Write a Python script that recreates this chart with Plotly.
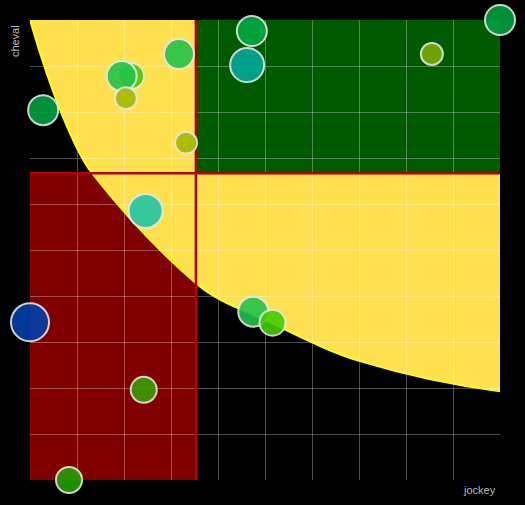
import plotly.graph_objects as go

# bubbles (jockey score, cheval score)
jockey = [0.28, 2.15, 1.95, 2.04, 3.17, 3.32, 4.72, 4.62, 8.55, 10.0, 2.46, 0.0, 4.75, 5.16, 2.42, 0.83]
cheval = [8.04, 8.78, 8.78, 8.30, 9.26, 7.33, 9.76, 9.02, 9.26, 10.0, 5.85, 3.43, 3.66, 3.42, 1.96, 0.0]
weight = [30, 26, 30, 22, 30, 22, 30, 34, 22, 30, 34, 38, 30, 26, 26, 26]
colors = [
    "#00a040", "#44cc00", "#22c34a", "#a5b800", "#22c34a", "#a5b800",
    "#00aa44", "#00a89a", "#7aaa00", "#00a040", "#22c5a5", "#0040a8",
    "#22c34a", "#44cc00", "#3a9e00", "#22a000",
]

# thresholds and the boundary of the yellow zone
jockey_cut = 3.53
cheval_cut = 6.67
curve_x = [0, 0.66, 1.32, 3.53, 5.0, 7.0, 10.0]
curve_y = [10, 8.0, 6.67, 4.28, 3.48, 2.59, 1.93]


def smooth_path(xs, ys):
    # cubic hermite through the read points (x is increasing), as bezier segments
    n = len(xs)
    slopes = []
    for i in range(n):
        if 0 < i < n - 1:
            slopes.append((ys[i + 1] - ys[i - 1]) / (xs[i + 1] - xs[i - 1]))
        else:
            slopes.append(None)
    first = (ys[1] - ys[0]) / (xs[1] - xs[0])
    last = (ys[-1] - ys[-2]) / (xs[-1] - xs[-2])
    slopes[0] = 2 * first - slopes[1]
    slopes[-1] = 2 * last - slopes[-2]
    path = f"M {xs[0]},{ys[0]}"
    for i in range(n - 1):
        dx = (xs[i + 1] - xs[i]) / 3
        c1 = (xs[i] + dx, ys[i] + slopes[i] * dx)
        c2 = (xs[i + 1] - dx, ys[i + 1] - slopes[i + 1] * dx)
        path += f" C {c1[0]:.4f},{c1[1]:.4f} {c2[0]:.4f},{c2[1]:.4f} {xs[i + 1]},{ys[i + 1]}"
    return path


x_max = curve_x[-1]
y_max = curve_y[0]
boundary = smooth_path(curve_x, curve_y)

fig = go.Figure()

fig.add_trace(
    go.Scatter(
        x=jockey,
        y=cheval,
        mode="markers",
        marker=dict(
            size=weight,
            color=colors,
            opacity=0.9,
            line=dict(color="#e6e6e6", width=2),
        ),
        cliponaxis=False,
        showlegend=False,
    )
)

fig.add_shape(
    type="rect", x0=0, x1=jockey_cut, y0=0, y1=cheval_cut,
    fillcolor="#800000", line_width=0, layer="below",
)
fig.add_shape(
    type="path",
    path=boundary + f" L {x_max},{y_max} Z",
    fillcolor="#ffe14f", line_width=0, layer="below",
)
fig.add_shape(
    type="rect", x0=jockey_cut, x1=x_max, y0=cheval_cut, y1=y_max,
    fillcolor="#005a00", line_width=0, layer="below",
)
fig.add_shape(
    type="path", path=boundary,
    fillcolor="rgba(0,0,0,0)", line=dict(color="#ffff00", width=2),
    layer="between",
)
fig.add_shape(
    type="line", x0=jockey_cut, x1=jockey_cut, y0=0, y1=y_max,
    line=dict(color="#b00000", width=2.5), layer="between",
)
fig.add_shape(
    type="line", x0=0, x1=x_max, y0=cheval_cut, y1=cheval_cut,
    line=dict(color="#b00000", width=2.5), layer="between",
)

label_font = dict(family="Liberation Sans, Arial, sans-serif", size=11, color="#bbbbbb")
fig.add_annotation(
    text="cheval", xref="paper", yref="paper", x=-0.032, y=0.954,
    xanchor="center", yanchor="middle",
    textangle=-90, showarrow=False, font=label_font,
)
fig.add_annotation(
    text="jockey", xref="paper", yref="paper", x=0.996, y=-0.022,
    xanchor="right", yanchor="middle", showarrow=False, font=label_font,
)

fig.update_layout(
    width=525,
    height=505,
    margin=dict(l=30, r=25, t=20, b=25),
    paper_bgcolor="#000000",
    plot_bgcolor="#000000",
    hovermode="closest",
)

grid = dict(
    range=[0, 10],
    dtick=1,
    showticklabels=False,
    ticks="",
    showgrid=True,
    gridcolor="rgba(255,255,255,0.3)",
    gridwidth=1,
    zeroline=False,
    showline=False,
    fixedrange=True,
)
fig.update_xaxes(**grid)
fig.update_yaxes(**grid)

fig.write_html(
    "out.html",
    config={"displayModeBar": False},
    post_script="document.body.style.margin='0';document.body.style.background='#000';",
)
